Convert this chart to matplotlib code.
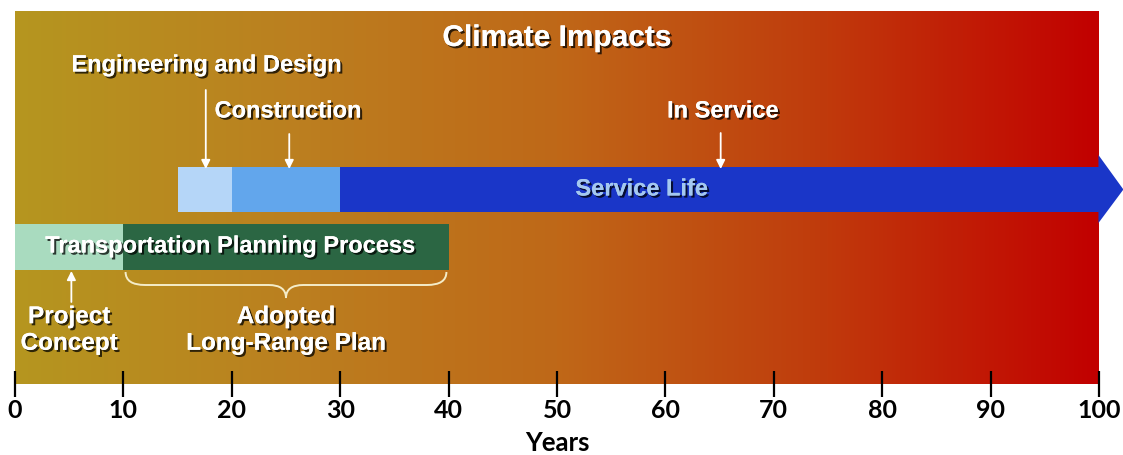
import matplotlib.pyplot as plt
import matplotlib.patheffects as pe
from matplotlib.colors import LinearSegmentedColormap
from matplotlib.patches import Rectangle, Polygon, PathPatch
from matplotlib.path import Path
import numpy as np

# timeline data (years)
years_ticks = [0, 10, 20, 30, 40, 50, 60, 70, 80, 90, 100]
phase_names = ['Engineering and Design', 'Construction', 'In Service']
phase_start = [15, 20, 30]
phase_end = [20, 30, 100]
phase_colors = ['#b5d6f8', '#62a6ec', '#1a36c8']
phase_arrow_x = [17.6, 25.3, 65.1]
plan_names = ['Project\nConcept', 'Adopted\nLong-Range Plan']
plan_start = [0, 10]
plan_end = [10, 40]
plan_colors = ['#a9dbbf', '#2b6643']
plan_label_x = [5, 25]

fig = plt.figure(figsize=(11.23, 4.55), dpi=100)
# axes spans the coloured background; y in pixel units (top = 11, bottom = 384)
ax = fig.add_axes([15 / 1123, (455 - 384) / 455, 1084 / 1123, (384 - 11) / 455])
ax.set_xlim(0, 100)
ax.set_ylim(384, 11)

# background gradient
cmap = LinearSegmentedColormap.from_list('climate', ['#b5961f', '#bb8020', '#bf6818', '#c03a0c', '#c20000'])
grad = np.linspace(0, 1, 512).reshape(1, -1)
ax.imshow(grad, cmap=cmap, aspect='auto', extent=[0, 100, 384, 11], zorder=0)

shadow = [pe.withSimplePatchShadow(offset=(1.5, -1.5), shadow_rgbFace='black', alpha=0.75), pe.Normal()]
lab_font = dict(family='Liberation Sans', weight='bold', color='white', ha='center', va='center',
                path_effects=shadow)

ax.text(50, 38, 'Climate Impacts', fontsize=21.5, **lab_font)

# project phases bar
for s, e, c in zip(phase_start, phase_end, phase_colors):
    ax.add_patch(Rectangle((s, 167), e - s, 45, facecolor=c, edgecolor='none', zorder=2))
end = phase_end[-1]
head = Polygon([(end - 0.05, 155), (end + 2.25, 189.5), (end - 0.05, 223)], closed=True,
               facecolor=phase_colors[-1], edgecolor='none', zorder=2, clip_on=False)
ax.add_patch(head)
ax.text(57.8, 189, 'Service Life', fontsize=17, family='Liberation Sans', weight='bold',
        color='#a4c8f0', ha='center', va='center', path_effects=shadow, zorder=3)

# phase labels with arrows
label_pos = [(17.7, 65, 90), (25.2, 111, 134), (65.3, 111, 133)]
for name, ax_x, (lx, ly, ay) in zip(phase_names, phase_arrow_x, label_pos):
    ax.text(lx, ly, name, fontsize=17, **lab_font)
    ax.annotate('', xy=(ax_x, 169), xytext=(ax_x, ay),
                arrowprops=dict(arrowstyle='-|>', color='white', lw=1.3, mutation_scale=13,
                                shrinkA=0, shrinkB=0), zorder=4)

# planning bar
for s, e, c in zip(plan_start, plan_end, plan_colors):
    ax.add_patch(Rectangle((s, 224), e - s, 46, facecolor=c, edgecolor='none', zorder=2))
ax.text(19.9, 246, 'Transportation Planning Process', fontsize=17, zorder=3, **lab_font)

for name, x in zip(plan_names, plan_label_x):
    ax.text(x, 330, name, fontsize=17.5, linespacing=1.2, **lab_font)

# arrow up to the project concept
ax.annotate('', xy=(5.2, 271), xytext=(5.2, 302),
            arrowprops=dict(arrowstyle='-|>', color='white', lw=1.3, mutation_scale=13,
                            shrinkA=0, shrinkB=0), zorder=4)

# brace under the long-range plan
b0, b1 = plan_start[1] + 0.2, plan_end[1] - 0.2
bm = (plan_start[1] + plan_end[1]) / 2
verts = [(b0, 272), (b0, 285), (b0 + 1.8, 285),
         (bm - 1.6, 285),
         (bm, 285), (bm, 298),
         (bm, 285), (bm + 1.6, 285),
         (b1 - 1.8, 285),
         (b1, 285), (b1, 272)]
codes = [Path.MOVETO, Path.CURVE3, Path.CURVE3, Path.LINETO, Path.CURVE3, Path.CURVE3,
         Path.CURVE3, Path.CURVE3, Path.LINETO, Path.CURVE3, Path.CURVE3]
ax.add_patch(PathPatch(Path(verts, codes), facecolor='none', edgecolor='#f4ecc8', lw=1.4, zorder=3))

# axis
for sp in ax.spines.values():
    sp.set_visible(False)
ax.set_yticks([])
ax.set_xticks(years_ticks)
ax.set_xticklabels([str(t) for t in years_ticks], family='Lato', weight='bold', fontsize=18)
ax.tick_params(axis='x', direction='inout', length=19, width=1.6, color='black', pad=1.5)
ax.text(50, 443, 'Years', family='Lato', weight='bold', fontsize=18.5, ha='center', va='center',
        clip_on=False)

plt.savefig('out.png', dpi=100)
